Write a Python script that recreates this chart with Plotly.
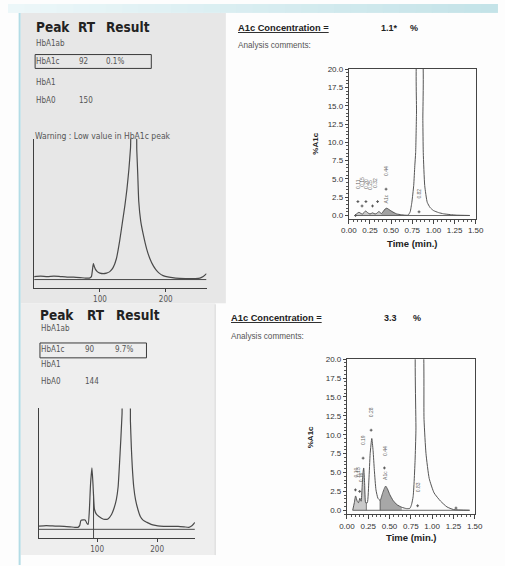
import plotly.graph_objects as go

W, H = 505, 566


def fx(px):
    return px / W


def fy(py):
    return 1 - py / H


# ------------------------------------------------------------------ data
# top-left chromatogram (detector trace, arbitrary units vs. RT)
TL_X = [0, 10, 20, 30, 40, 50, 60, 70, 78, 84, 87, 88.5, 90, 91.5, 93, 96, 100, 105, 110,
        115, 120, 125, 130, 134, 138, 141, 144, 146.5, 148.5, 154.5, 156, 157.5, 159, 162,
        166, 171, 176, 181, 185, 190, 196, 205, 215, 230, 245, 252, 257, 262]
TL_Y = [12, 12.5, 12, 12.5, 12, 11.5, 11.5, 11, 10.5, 10.5, 12, 18, 25, 22, 19.5, 17, 15.5,
        15, 15.5, 17, 21, 30, 48, 66, 84, 100, 120, 142, 165, 165, 140, 115, 88, 68,
        54, 40, 30, 23, 19, 15.5, 13, 11.5, 10.5, 10, 10, 10.5, 12, 15]
TL_BASE_X = [0, 262]
TL_BASE_Y = [9, 9]
TL_TICKS = [100, 200]

# bottom-left chromatogram
BL_X = [3, 15, 30, 45, 55, 63, 68, 71, 73, 80, 83, 85, 87, 89, 91.3, 93, 95.6, 99, 103,
        108, 113, 118, 124, 128, 132, 135, 137, 139.5, 141.5, 143, 154, 155.5, 157, 158.6,
        161, 164, 168, 172, 177, 183, 190, 197, 205, 220, 235, 245, 253, 258, 263]
BL_Y = [12.3, 12.8, 12.3, 12, 11.5, 11, 11, 13, 18, 18.5, 15, 14, 28, 55, 71, 55, 29, 24,
        22, 20, 19, 19.5, 24, 30, 39, 52, 72, 100, 125, 140, 140, 118, 92, 72, 52, 39, 29,
        22, 18, 16, 14, 13, 12.3, 12, 12, 11.5, 11, 12.5, 16]
BL_BASE_X = [3, 263]
BL_BASE_Y = [9, 9]
BL_DROP_X = [94, 94]
BL_DROP_Y = [0, 45]
BL_TICKS = [100, 200]

# top-right %A1c chromatogram
TR_X = [0.07, 0.10, 0.12, 0.14, 0.16, 0.18, 0.20, 0.22, 0.25, 0.28, 0.31, 0.33, 0.355,
        0.385, 0.41, 0.43, 0.45, 0.47, 0.51, 0.565, 0.62, 0.66, 0.70, 0.725, 0.745, 0.767,
        0.78, 0.79, 0.80, 0.81, 0.865, 0.875, 0.88, 0.897, 0.927, 0.96, 1.0, 1.06, 1.12,
        1.2, 1.27, 1.43]
TR_Y = [0.0, 0.3, 0.45, 0.3, 0.2, 0.4, 0.63, 0.4, 0.2, 0.36, 0.2, 0.3, 0.54, 0.27, 0.6,
        0.9, 1.0, 0.85, 0.54, 0.22, 0.1, 0.05, 0.05, 0.5, 1.8, 4.1, 6.8, 8.6, 14, 22, 22,
        13, 8.6, 4.1, 1.8, 1.1, 0.68, 0.4, 0.23, 0.12, 0.05, 0.0]
TR_SMALL_X = [0.07, 0.10, 0.12, 0.14, 0.16, 0.18, 0.20, 0.22, 0.25, 0.28, 0.31, 0.33, 0.355, 0.385]
TR_SMALL_Y = [0.0, 0.3, 0.45, 0.3, 0.2, 0.4, 0.63, 0.4, 0.2, 0.36, 0.2, 0.3, 0.54, 0.27]
TR_SHADE_X = [0.385, 0.41, 0.43, 0.45, 0.47, 0.51, 0.565, 0.62]
TR_SHADE_Y = [0.27, 0.6, 0.9, 1.0, 0.85, 0.54, 0.22, 0.1]
TR_BASE_X = [0.07, 1.43]
TR_BASE_Y = [0, 0]
TR_LABELS = ["0.11", "0.15", "0.20", "0.25", "0.32", "0.44", "A1c", "0.82"]
TR_LABEL_X = [0.107, 0.156, 0.202, 0.252, 0.317, 0.44, 0.44, 0.83]
TR_LABEL_Y = [4.3, 4.6, 4.3, 4.2, 4.4, 6.1, 2.2, 3.0]
TR_MARK_X = [0.107, 0.156, 0.202, 0.28, 0.34, 0.44, 0.83, 0.08]
TR_MARK_Y = [1.9, 1.3, 1.9, 1.3, 1.9, 3.6, 0.5, 0.0]

# bottom-right %A1c chromatogram
BR_X = [0.068, 0.087, 0.102, 0.121, 0.136, 0.152, 0.167, 0.178, 0.189, 0.197, 0.208, 0.22,
        0.239, 0.258, 0.273, 0.292, 0.307, 0.322, 0.341, 0.364, 0.39, 0.417, 0.44, 0.455,
        0.477, 0.504, 0.542, 0.587, 0.644, 0.70, 0.739, 0.758, 0.777, 0.788, 0.80, 0.81,
        0.82, 0.88, 0.905, 0.928, 0.966, 1.023, 1.1, 1.174, 1.25, 1.44]
BR_Y = [0, 1.0, 1.9, 1.2, 1.0, 1.6, 1.2, 3.0, 5.0, 5.6, 3.5, 1.0, 1.0, 4.0, 7.5, 9.5, 7.9,
        5.3, 2.7, 1.6, 1.3, 2.2, 2.9, 3.2, 2.8, 2.05, 1.3, 0.74, 0.4, 0.22, 0.26, 0.74, 1.8,
        3.6, 6.6, 10.6, 24, 24, 12, 7.5, 4.2, 2.3, 1.2, 0.45, 0.1, 0.0]
BR_SMALL_X = [0.068, 0.087, 0.102, 0.121, 0.136, 0.152, 0.167, 0.178, 0.189, 0.197, 0.208, 0.22]
BR_SMALL_Y = [0, 1.0, 1.9, 1.2, 1.0, 1.6, 1.2, 3.0, 5.0, 5.6, 3.5, 1.0]
BR_SHADE_X = [0.39, 0.417, 0.44, 0.455, 0.477, 0.504, 0.542, 0.587, 0.644]
BR_SHADE_Y = [1.3, 2.2, 2.9, 3.2, 2.8, 2.05, 1.3, 0.74, 0.4]
BR_BASE_X = [0.068, 1.44]
BR_BASE_Y = [0, 0]
BR_DROP_X = [0.227, 0.227, None, 0.39, 0.39]
BR_DROP_Y = [0, 1.0, None, 0, 1.3]
BR_LABELS = ["0.10", "0.13", "0.16", "0.19", "0.28", "0.44", "A1c", "0.83"]
BR_LABEL_X = [0.095, 0.125, 0.16, 0.19, 0.284, 0.44, 0.44, 0.83]
BR_LABEL_Y = [5.0, 5.0, 4.3, 9.3, 13.0, 7.9, 4.6, 3.0]
BR_MARK_X = [0.10, 0.15, 0.19, 0.284, 0.44, 0.83, 1.28]
BR_MARK_Y = [2.7, 2.5, 6.9, 10.6, 5.6, 0.6, 0.3]

# shared axis ticks of the %A1c plots
Y_TICKS = [0, 2.5, 5, 7.5, 10, 12.5, 15, 17.5, 20]
Y_TICK_TEXT = ["0.0", "2.5", "5.0", "7.5", "10.0", "12.5", "15.0", "17.5", "20.0"]
X_TICKS = [0, 0.25, 0.5, 0.75, 1.0, 1.25, 1.5]
X_TICK_TEXT = ["0.00", "0.25", "0.50", "0.75", "1.00", "1.25", "1.50"]

# report tables
TOP_ROWS = [("HbA1ab", "", ""), ("HbA1c", "92", "0.1%"), ("HbA1", "", ""), ("HbA0", "150", "")]
BOT_ROWS = [("HbA1ab", "", ""), ("HbA1c", "90", "9.7%"), ("HbA1", "", ""), ("HbA0", "144", "")]
HEADERS = ["Peak", "RT", "Result"]
WARNING = "Warning : Low value in HbA1c peak"
CONC_TOP = "1.1*"
CONC_BOT = "3.3"

# ------------------------------------------------------------------ style
NARROW = "DejaVu Sans Condensed, Liberation Sans Narrow, sans-serif"
ARIAL = "Liberation Sans, Arial, Helvetica, sans-serif"
DARK = "#3a3a3a"
MID = "#555555"

fig = go.Figure()


def line(x, y, xa, ya, color=DARK, width=1.1, smooth=True, dash=None):
    fig.add_trace(go.Scatter(
        x=x, y=y, mode="lines", xaxis=xa, yaxis=ya, hoverinfo="skip", showlegend=False,
        line=dict(color=color, width=width, shape="spline" if smooth else "linear",
                  smoothing=0.5, dash=dash)))


def fill(x, y, xa, ya, color):
    fig.add_trace(go.Scatter(
        x=x, y=y, mode="lines", xaxis=xa, yaxis=ya, fill="tozeroy", fillcolor=color,
        hoverinfo="skip", showlegend=False, line=dict(color="rgba(0,0,0,0)", width=0)))


# top-left
line(TL_BASE_X, TL_BASE_Y, "x", "y", color="#4a4a4a", width=1, smooth=False)
line(TL_X, TL_Y, "x", "y", color="#4a4a4a", width=1.2)
# bottom-left
line(BL_BASE_X, BL_BASE_Y, "x3", "y3", color="#4a4a4a", width=1, smooth=False)
line(BL_DROP_X, BL_DROP_Y, "x3", "y3", color="#4a4a4a", width=1, smooth=False)
line(BL_X, BL_Y, "x3", "y3", color="#4a4a4a", width=1.2)
# top-right
fill(TR_SMALL_X, TR_SMALL_Y, "x2", "y2", "rgba(150,150,150,0.5)")
fill(TR_SHADE_X, TR_SHADE_Y, "x2", "y2", "rgba(130,130,130,0.75)")
line(TR_BASE_X, TR_BASE_Y, "x2", "y2", color=MID, width=0.9, smooth=False)
line(TR_X, TR_Y, "x2", "y2", color=MID, width=1.0)
fig.add_trace(go.Scatter(x=TR_MARK_X, y=TR_MARK_Y, mode="markers", xaxis="x2", yaxis="y2",
                         hoverinfo="skip", showlegend=False,
                         marker=dict(symbol="cross-thin", size=2,
                                     line=dict(color=MID, width=1))))
# bottom-right
fill(BR_SMALL_X, BR_SMALL_Y, "x4", "y4", "rgba(150,150,150,0.5)")
fill(BR_SHADE_X, BR_SHADE_Y, "x4", "y4", "rgba(130,130,130,0.7)")
line(BR_BASE_X, BR_BASE_Y, "x4", "y4", color=MID, width=0.9, smooth=False)
line(BR_DROP_X, BR_DROP_Y, "x4", "y4", color=MID, width=0.9, smooth=False)
line(BR_X, BR_Y, "x4", "y4", color=MID, width=1.0)
fig.add_trace(go.Scatter(x=BR_MARK_X, y=BR_MARK_Y, mode="markers", xaxis="x4", yaxis="y4",
                         hoverinfo="skip", showlegend=False,
                         marker=dict(symbol="cross-thin", size=2,
                                     line=dict(color=MID, width=1))))

# ------------------------------------------------------------------ axes
left_x = dict(showline=True, linecolor="#404040", linewidth=1, ticks="outside", ticklen=3,
              tickcolor="#404040", tickfont=dict(family=NARROW, size=8, color="#555"),
              showgrid=False, zeroline=False, fixedrange=True)
left_y = dict(showline=True, linecolor="#404040", linewidth=1, ticks="", showticklabels=False,
              showgrid=False, zeroline=False, fixedrange=True)
right_x = dict(showline=True, mirror=True, linecolor="#444", linewidth=1, ticks="outside",
               ticklen=4, tickcolor="#444", tickvals=X_TICKS, ticktext=X_TICK_TEXT,
               tickfont=dict(family=ARIAL, size=8, color="#333"), showgrid=False,
               zeroline=False, range=[0, 1.5], fixedrange=True,
               minor=dict(ticks="outside", ticklen=2, dtick=0.05, tick0=0, tickcolor="#555"))
right_y = dict(showline=True, mirror=True, linecolor="#444", linewidth=1, ticks="outside",
               ticklen=3, tickcolor="#444", tickvals=Y_TICKS, ticktext=Y_TICK_TEXT,
               tickfont=dict(family=ARIAL, size=8, color="#333"), showgrid=False,
               zeroline=False, fixedrange=True,
               minor=dict(ticks="outside", ticklen=2, dtick=0.5, tick0=0, tickcolor="#555"))

layout = dict(
    width=W, height=H, autosize=False, margin=dict(l=0, r=0, t=0, b=0, pad=0),
    paper_bgcolor="#fdfdfd", plot_bgcolor="rgba(0,0,0,0)", showlegend=False,
    xaxis=dict(left_x, domain=[fx(27), fx(205)], range=[0, 262], tickvals=TL_TICKS,
               anchor="y"),
    yaxis=dict(left_y, domain=[fy(287), fy(136)], range=[0, 151], anchor="x"),
    xaxis3=dict(left_x, domain=[fx(32), fx(193)], range=[3, 263], tickvals=BL_TICKS,
                anchor="y3"),
    yaxis3=dict(left_y, domain=[fy(539), fy(408)], range=[0, 131], anchor="x3"),
    xaxis2=dict(right_x, domain=[fx(352), fx(483)], anchor="y2"),
    yaxis2=dict(right_y, domain=[fy(216.7), fy(65.7)], range=[-0.45, 20], anchor="x2"),
    xaxis4=dict(right_x, domain=[fx(350), fx(482)], anchor="y4"),
    yaxis4=dict(right_y, domain=[fy(515), fy(358.3)], range=[-0.55, 20], anchor="x4"),
)
fig.update_layout(**layout)

# ------------------------------------------------------------------ background shapes
shapes = []
# cyan band gradient at the top
n = 30
c0 = (236, 247, 249)
c1 = (196, 227, 232)
for i in range(n):
    t = i / (n - 1)
    col = tuple(int(round(c0[k] + (c1[k] - c0[k]) * t)) for k in range(3))
    shapes.append(dict(type="rect", xref="paper", yref="paper", layer="below",
                       x0=fx(W * i / n), x1=fx(W * (i + 1) / n + 1), y0=fy(9), y1=1,
                       fillcolor="rgb(%d,%d,%d)" % col, line=dict(width=0)))
# grey scanned panels on the left
shapes.append(dict(type="rect", xref="paper", yref="paper", layer="below",
                   x0=fx(13), x1=fx(225), y0=fy(302), y1=fy(9),
                   fillcolor="#e7e7e7", line=dict(width=0)))
shapes.append(dict(type="rect", xref="paper", yref="paper", layer="below",
                   x0=fx(13), x1=fx(214), y0=fy(556), y1=fy(302),
                   fillcolor="#eeeeee", line=dict(width=0)))
shapes.append(dict(type="line", xref="paper", yref="paper", layer="below",
                   x0=fx(214), x1=fx(214), y0=fy(556), y1=fy(303),
                   line=dict(color="#d8d8d8", width=1)))
# light-blue page rule on the left
shapes.append(dict(type="line", xref="paper", yref="paper", layer="below",
                   x0=fx(12), x1=fx(12), y0=0, y1=fy(9),
                   line=dict(color="#b3dce6", width=2)))
# HbA1c result boxes
shapes.append(dict(type="rect", xref="paper", yref="paper",
                   x0=fx(28), x1=fx(148), y0=fy(65), y1=fy(51),
                   line=dict(color="#3a3a3a", width=1)))
shapes.append(dict(type="rect", xref="paper", yref="paper",
                   x0=fx(33), x1=fx(143), y0=fy(357), y1=fy(342),
                   line=dict(color="#3a3a3a", width=1)))
fig.update_layout(shapes=shapes)

# ------------------------------------------------------------------ text
ann = []


def txt(px, py, s, size, family=NARROW, color="#444", bold=False, anchor="left", angle=0):
    if bold:
        s = "<b>%s</b>" % s
    ann.append(dict(x=fx(px), y=fy(py), xref="paper", yref="paper", text=s,
                    showarrow=False, xanchor=anchor, yanchor="middle", textangle=angle,
                    borderpad=0,
                    font=dict(family=family, size=size, color=color)))


# left report headers and tables
for (hx, y0, rows, cols, rys) in [
    ([28, 71, 100], 23, TOP_ROWS, [28, 72, 100], [40, 58, 79, 97]),
    ([32, 81, 111], 314, BOT_ROWS, [33, 79, 109], [327, 349, 364, 381]),
]:
    for h, xh in zip(HEADERS, hx):
        txt(xh, y0, h, 13.5, color="#222", bold=True)
    for (name, rt, res), ry in zip(rows, rys):
        txt(cols[0], ry, name, 8, color="#555")
        if rt:
            txt(cols[1], ry, rt, 8, color="#555")
        if res:
            txt(cols[2], ry, res, 8, color="#555")
txt(27, 133, WARNING, 8.5, color="#555")

# right report headers
txt(236, 24, "<u>A1c Concentration =</u>", 9.3, family=ARIAL, color="#222", bold=True)
txt(384, 24, CONC_TOP, 9, family=ARIAL, color="#222", bold=True)
txt(414, 24, "%", 9, family=ARIAL, color="#222", bold=True)
txt(236, 42, "Analysis comments:", 8.2, family=ARIAL, color="#555")
txt(229, 317, "<u>A1c Concentration =</u>", 9.3, family=ARIAL, color="#222", bold=True)
txt(387, 317, CONC_BOT, 9, family=ARIAL, color="#222", bold=True)
txt(417, 317, "%", 9, family=ARIAL, color="#222", bold=True)
txt(229, 335, "Analysis comments:", 8.2, family=ARIAL, color="#555")

# axis titles of the %A1c plots
txt(418, 242, "Time (min.)", 9.5, family=ARIAL, color="#222", bold=True, anchor="center")
txt(318, 141, "%A1c", 8, family=ARIAL, color="#222", bold=True, anchor="center", angle=-90)
txt(417, 538, "Time (min.)", 9.5, family=ARIAL, color="#222", bold=True, anchor="center")
txt(312, 437, "%A1c", 8, family=ARIAL, color="#222", bold=True, anchor="center", angle=-90)

# rotated peak retention-time labels
for labs, lx, ly, xa, ya in [(TR_LABELS, TR_LABEL_X, TR_LABEL_Y, "x2", "y2"),
                             (BR_LABELS, BR_LABEL_X, BR_LABEL_Y, "x4", "y4")]:
    for s, x, y in zip(labs, lx, ly):
        ann.append(dict(x=x, y=y, xref=xa, yref=ya, text=s, showarrow=False,
                        textangle=-90, font=dict(family=ARIAL, size=5, color="#666")))

fig.update_layout(annotations=ann)

fig.write_html(
    "out.html",
    config={"displayModeBar": False, "staticPlot": True},
    post_script="document.body.style.margin='0';document.body.style.padding='0';"
                "document.body.style.overflow='hidden';",
)
